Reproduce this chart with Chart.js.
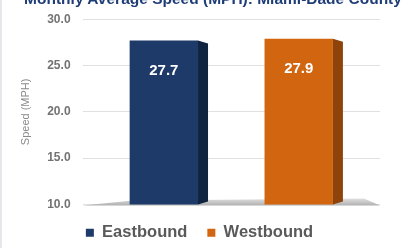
<!DOCTYPE html>
<html>
<head>
<meta charset="utf-8">
<script src="https://cdn.jsdelivr.net/npm/chart.js@4.4.0/dist/chart.umd.min.js"></script>
<style>
  html, body { margin: 0; padding: 0; background: #fff; overflow: hidden; }
  #wrap { position: relative; width: 402px; height: 252px; border-left: 2px solid #e6e6ea; box-sizing: border-box; }
  #title { position: absolute; top: -10px; left: 0; width: 426px; text-align: center; white-space: nowrap; line-height: 19px;
           font: bold 15.5px "Liberation Sans", Arial, sans-serif; color: #1f3d78; }
</style>
</head>
<body>
<div id="wrap"><canvas id="speedChart"></canvas></div>
<div id="title">Monthly Average Speed (MPH): Miami-Dade County</div>
<script>
// monthly average speed by direction
var directions = ['Eastbound', 'Westbound'];
var speeds = [27.7, 27.9];
var barColors = ['#1d3a69', '#d2650f'];
var sideColors = ['#10233f', '#8e430a'];
var yTicks = [10, 15, 20, 25, 30];

// fake 3d: floor under the bars + side face of each bar + value labels
var bar3d = {
    id: 'bar3d',
    beforeDatasetsDraw: function(chart) {
        var ctx = chart.ctx, a = chart.chartArea;
        ctx.save();
        var g = ctx.createLinearGradient(0, a.bottom - 7, 0, a.bottom + 1);
        g.addColorStop(0, '#e6e6e6');
        g.addColorStop(1, '#b0b0b0');
        ctx.fillStyle = g;
        ctx.beginPath();
        ctx.moveTo(a.left, a.bottom + 1);
        ctx.lineTo(a.right, a.bottom + 1);
        ctx.lineTo(a.right - 16, a.bottom - 6);
        ctx.lineTo(a.left + 50, a.bottom - 4);
        ctx.closePath();
        ctx.fill();
        ctx.restore();
    },
    afterDatasetsDraw: function(chart) {
        var ctx = chart.ctx, a = chart.chartArea;
        ctx.save();
        chart.data.datasets.forEach(function(ds, i) {
            var bar = chart.getDatasetMeta(i).data[0];
            var x0 = bar.x + bar.width / 2;
            var base = Math.min(bar.base, a.bottom);
            ctx.fillStyle = sideColors[i];
            ctx.beginPath();
            ctx.moveTo(x0, bar.y);
            ctx.lineTo(x0 + 10, bar.y + 3);
            ctx.lineTo(x0 + 10, base - 3);
            ctx.lineTo(x0, base);
            ctx.closePath();
            ctx.fill();
            ctx.fillStyle = '#ffffff';
            ctx.font = 'bold 15px "Liberation Sans", Arial, sans-serif';
            ctx.textAlign = 'center';
            ctx.textBaseline = 'middle';
            ctx.fillText(ds.data[0].toFixed(1), bar.x, bar.y + 30);
        });
        ctx.restore();
    }
};

var datasets = directions.map(function(name, i) {
    return {
        label: name,
        data: [speeds[i]],
        backgroundColor: barColors[i],
        categoryPercentage: 0.907,
        barPercentage: 0.507
    };
});

new Chart(document.getElementById('speedChart'), {
    type: 'bar',
    data: { labels: [''], datasets: datasets },
    plugins: [bar3d],
    options: {
        responsive: true,
        maintainAspectRatio: false,
        animation: false,
        layout: { padding: { left: 17, right: 22, top: 17, bottom: 1 } },
        plugins: {
            legend: {
                position: 'bottom',
                labels: {
                    boxWidth: 8,
                    boxHeight: 8,
                    padding: 20,
                    color: '#595959',
                    font: { family: '"Liberation Sans", Arial, sans-serif', size: 16.5, weight: 'bold' }
                }
            },
            tooltip: { enabled: false }
        },
        scales: {
            x: { display: false },
            y: {
                min: 10,
                max: 30,
                afterBuildTicks: function(axis) {
                    axis.ticks = yTicks.map(function(v) { return { value: v }; });
                },
                border: { display: false },
                grid: { color: '#e0e0e0', drawTicks: false },
                ticks: {
                    padding: 12,
                    color: '#737373',
                    font: { family: '"Liberation Sans", Arial, sans-serif', size: 12, weight: 'bold' },
                    callback: function(v) { return v.toFixed(1); }
                },
                title: {
                    display: true,
                    text: 'Speed (MPH)',
                    color: '#8a8a8a',
                    font: { family: '"Liberation Sans", Arial, sans-serif', size: 11 },
                    padding: { top: 0, bottom: 3 }
                }
            }
        }
    }
});
</script>
</body>
</html>
